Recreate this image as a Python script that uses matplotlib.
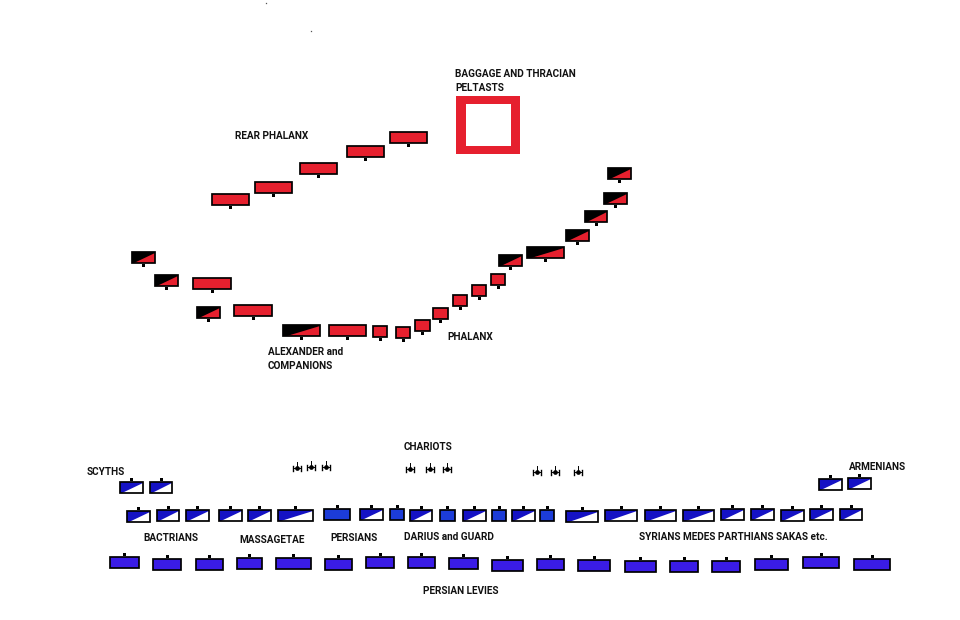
import matplotlib
matplotlib.use('Agg')
import matplotlib.pyplot as plt
from matplotlib.patches import Polygon, Rectangle

# all values, in image pixels
rear_x = [211, 254, 299, 346, 389]
rear_y = [193, 181, 162, 145, 131]
rear_w = [39, 39, 39, 39, 39]

red_x = [192, 233, 328, 372, 395, 414, 432, 452, 471, 490]
red_y = [277, 304, 324, 325, 326, 319, 307, 294, 284, 273]
red_w = [40, 40, 39, 16, 16, 17, 17, 16, 16, 16]

split_red_x = [131, 154, 196, 282, 498, 526, 565, 584, 603, 607]
split_red_y = [251, 274, 306, 324, 254, 246, 229, 210, 192, 167]
split_red_w = [25, 25, 25, 39, 25, 39, 25, 24, 25, 25]

front_split_x = [119, 149, 126, 156, 185, 218, 247, 277, 359, 409, 462, 511,
                 565, 604, 644, 682, 720, 750, 780, 809, 839, 818, 847]
front_split_y = [481, 481, 510, 509, 509, 509, 509, 509, 508, 509, 509, 509,
                 510, 509, 509, 509, 508, 508, 509, 508, 508, 478, 477]
front_split_w = [25, 24, 25, 24, 25, 25, 25, 37, 25, 24, 25, 25,
                 34, 34, 33, 33, 25, 25, 25, 25, 24, 25, 25]

guard_x = [323, 389, 439, 491, 539]
guard_y = [508, 508, 509, 509, 509]
guard_w = [28, 16, 17, 16, 16]

levy_x = [109, 152, 195, 236, 275, 324, 365, 407, 448, 491, 536, 577, 624, 669,
          711, 754, 802, 853]
levy_y = [556, 558, 558, 557, 557, 558, 556, 556, 557, 559, 558, 559, 560, 560,
          560, 558, 556, 558]
levy_w = [31, 30, 29, 27, 37, 29, 30, 29, 31, 33, 29, 34, 33, 30, 30, 35, 38, 38]

chariot_x = [297, 311, 326, 410, 430, 447, 537, 555, 578]
chariot_y = [468, 467, 467, 469, 469, 469, 472, 472, 472]

labels = ['BAGGAGE AND THRACIAN\nPELTASTS', 'REAR PHALANX', 'ALEXANDER and\nCOMPANIONS',
          'PHALANX', 'CHARIOTS', 'SCYTHS', 'ARMENIANS', 'BACTRIANS', 'MASSAGETAE',
          'PERSIANS', 'DARIUS and GUARD', 'SYRIANS MEDES PARTHIANS SAKAS etc.',
          'PERSIAN LEVIES']
label_x = [455, 235, 268, 447, 404, 87, 849, 143, 239, 330, 404, 639, 423]
label_y = [81, 136, 359, 337, 447, 472, 467, 538, 540, 538, 537, 537, 591]

RED = '#e6202e'
LEVY_BLUE = '#3a1ce6'
GUARD_BLUE = '#1c3cd8'
SPLIT_BLUE = '#1512c4'
UNIT_H = 12.5
EDGE = 1.25


def draw_unit(ax, x, y, w, fill, tick='down', h=UNIT_H):
    # measured sizes are outer sizes, so pull the stroke inside them
    ax.add_patch(Rectangle((x + 0.8, y + 0.8), w - 1.6, h - 1.6, fc=fill, ec='black', lw=EDGE))
    draw_tick(ax, x + w / 2, y, h, tick)


def draw_split(ax, x, y, w, upper, lower, tick='down', h=UNIT_H):
    ax.add_patch(Rectangle((x + 0.8, y + 0.8), w - 1.6, h - 1.6, fc=upper, ec='none'))
    ax.add_patch(Polygon([(x + 0.12 * w, y + h - 0.8), (x + w - 0.8, y + h - 0.8), (x + w - 0.8, y + 0.12 * h)],
                         fc=lower, ec='none'))
    ax.add_patch(Rectangle((x + 0.8, y + 0.8), w - 1.6, h - 1.6, fc='none', ec='black', lw=EDGE))
    draw_tick(ax, x + w / 2, y, h, tick)


def draw_tick(ax, cx, y, h, tick):
    if tick == 'down':
        ax.add_patch(Rectangle((cx - 1.5, y + h), 3, 3.5, fc='black', ec='none'))
    else:
        ax.add_patch(Rectangle((cx - 1.5, y - 3.5), 3, 3.5, fc='black', ec='none'))


def draw_chariot(ax, cx, cy):
    ax.plot([cx - 4, cx + 4], [cy, cy], color='black', lw=0.7)
    ax.plot([cx, cx], [cy - 6, cy], color='black', lw=0.7)
    for dx in (-4, 4):
        ax.plot([cx + dx, cx + dx], [cy - 2.5, cy + 2.5], color='black', lw=1.0)
    ax.plot(cx, cy, 'o', color='black', ms=3.4, mew=0)


fig = plt.figure(figsize=(9.6, 6.2), dpi=100)
ax = fig.add_axes([0, 0, 1, 1])
ax.set_xlim(0, 960)
ax.set_ylim(620, 0)
ax.axis('off')

for x, y, w in zip(rear_x, rear_y, rear_w):
    draw_unit(ax, x, y, w, RED)
for x, y, w in zip(red_x, red_y, red_w):
    draw_unit(ax, x, y, w, RED)
for x, y, w in zip(split_red_x, split_red_y, split_red_w):
    draw_split(ax, x, y, w, 'black', RED)

# baggage square, red frame with white middle
ax.add_patch(Rectangle((456, 96), 64, 58, fc=RED, ec='none'))
ax.add_patch(Rectangle((466, 104), 45, 42, fc='white', ec='none'))

for x, y, w in zip(front_split_x, front_split_y, front_split_w):
    draw_split(ax, x, y, w, SPLIT_BLUE, 'white', tick='up')
for x, y, w in zip(guard_x, guard_y, guard_w):
    draw_unit(ax, x, y, w, GUARD_BLUE, tick='up')
for x, y, w in zip(levy_x, levy_y, levy_w):
    draw_unit(ax, x, y, w, LEVY_BLUE, tick='up')
for x, y in zip(chariot_x, chariot_y):
    draw_chariot(ax, x, y)

for s, x, y in zip(labels, label_x, label_y):
    ax.text(x, y, s, family='Roboto', weight='bold', fontsize=7.2, color='#111111',
            ha='left', va='center', linespacing=1.5)

# two stray specks near the top of the image
ax.plot([266, 311], [3, 31], 's', color='#555555', ms=0.9, mew=0)

fig.savefig('out.png', dpi=100)
